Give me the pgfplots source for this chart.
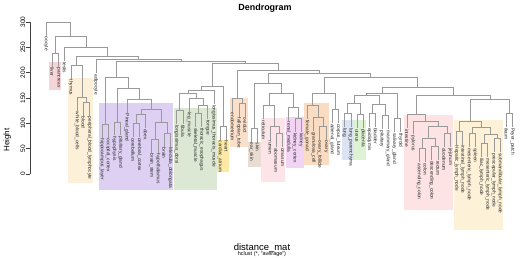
\documentclass[border=0pt]{standalone}
\usepackage{pgfplots}
\pgfplotsset{compat=1.18}
\usepackage{fontspec}
\setmainfont{Liberation Sans}
\definecolor{bxliver}{HTML}{F6D5D8}
\definecolor{bxblood}{HTML}{FCF1D8}
\definecolor{bxbrain}{HTML}{DDD0F2}
\definecolor{bxmuscle}{HTML}{DCE8D3}
\definecolor{bxheart}{HTML}{FCE9A6}
\definecolor{bxendo}{HTML}{FADFCB}
\definecolor{bxskin}{HTML}{E9DCD2}
\definecolor{bxrumen}{HTML}{FCE4E8}
\definecolor{bxkidney}{HTML}{F3D3F3}
\definecolor{bxovary}{HTML}{FADCC2}
\definecolor{bxlung}{HTML}{DCE3F3}
\definecolor{bxgreen}{HTML}{DDF3D3}
\definecolor{bxint}{HTML}{FDE3E3}
\definecolor{bxlymph}{HTML}{FDF1D8}
\definecolor{treegray}{HTML}{9A9A9A}
\begin{document}
\begin{tikzpicture}
\path[use as bounding box] (0,0) rectangle (520bp,258bp);
\begin{axis}[
  at={(30bp,84bp)}, anchor=south west,
  scale only axis, width=485bp, height=152bp,
  xmin=30, xmax=515, ymin=0, ymax=300,
  hide x axis, axis y line*=left,
  clip=false,
  ytick={0,50,...,300},
  tick align=outside, major tick length=3.5bp,
  yticklabel style={rotate=90, anchor=south, font=\fontsize{6.5}{7}\selectfont, inner sep=1pt},
  /pgf/number format/assume math mode=true,
  ylabel={Height},
  ylabel style={at={(axis description cs:-0.047,0.224)}, anchor=center, font=\fontsize{8}{9}\selectfont},
  axis line style={black!75, line width=0.5bp},
  y tick style={black!75, line width=0.5bp},
  unbounded coords=jump,
]
% ---- coloured group boxes
\addplot[draw=none, fill=bxliver] coordinates {(49.2,221)(61.4,221)(61.4,166)(49.2,166)} -- cycle;
\addplot[draw=none, fill=bxblood] coordinates {(67.9,189)(92.5,189)(92.5,-18)(67.9,-18)} -- cycle;
\addplot[draw=none, fill=bxbrain] coordinates {(99,140)(173.4,140)(173.4,-32)(99,-32)} -- cycle;
\addplot[draw=none, fill=bxmuscle] coordinates {(174,130)(216.9,130)(216.9,-32)(174,-32)} -- cycle;
\addplot[draw=none, fill=bxheart] coordinates {(217.2,67)(229.4,67)(229.4,4)(217.2,4)} -- cycle;
\addplot[draw=none, fill=bxendo] coordinates {(229.6,150)(248,150)(248,53)(229.6,53)} -- cycle;
\addplot[draw=none, fill=bxskin] coordinates {(248.3,63)(260.5,63)(260.5,14)(248.3,14)} -- cycle;
\addplot[draw=none, fill=bxrumen] coordinates {(260.7,110)(285.4,110)(285.4,-16)(260.7,-16)} -- cycle;
\addplot[draw=none, fill=bxkidney] coordinates {(285.6,112)(304,112)(304,12)(285.6,12)} -- cycle;
\addplot[draw=none, fill=bxovary] coordinates {(304.2,140)(328.9,140)(328.9,18)(304.2,18)} -- cycle;
\addplot[draw=none, fill=bxlung] coordinates {(341.6,106)(353.8,106)(353.8,28)(341.6,28)} -- cycle;
\addplot[draw=none, fill=bxgreen] coordinates {(354,106)(366.2,106)(366.2,28)(354,28)} -- cycle;
\addplot[draw=none, fill=bxint] coordinates {(403.8,116)(453.3,116)(453.3,-71)(403.8,-71)} -- cycle;
\addplot[draw=none, fill=bxlymph] coordinates {(453.5,107)(503.1,107)(503.1,-110)(453.5,-110)} -- cycle;
% ---- dendrogram branches
\addplot[treegray, line width=0.55bp] coordinates {
(46.0,273)(46.0,300)(70.6,300)(70.6,272) (0,nan)
(55.3,239)(55.3,272)(86.0,272)(86.0,250) (0,nan)
(52.2,212)(52.2,239)(58.4,239)(58.4,212) (0,nan)
(64.7,223)(64.7,250)(107.3,250)(107.3,232) (0,nan)
(76.3,215)(76.3,232)(138.3,232)(138.3,226) (0,nan)
(70.9,188)(70.9,215)(81.8,215)(81.8,152) (0,nan)
(77.1,125)(77.1,152)(86.4,152)(86.4,142) (0,nan)
(83.3,115)(83.3,142)(89.5,142)(89.5,115) (0,nan)
(95.8,199)(95.8,226)(180.9,226)(180.9,222) (0,nan)
(116.6,191)(116.6,222)(245.2,222)(245.2,219) (0,nan)
(105.1,99)(105.1,191)(128.2,191)(128.2,170) (0,nan)
(102.0,72)(102.0,99)(108.2,99)(108.2,72) (0,nan)
(117.5,103)(117.5,170)(138.9,170)(138.9,148) (0,nan)
(114.4,76)(114.4,103)(120.6,103)(120.6,76) (0,nan)
(126.9,121)(126.9,148)(151.0,148)(151.0,128) (0,nan)
(140.9,118)(140.9,128)(161.1,128)(161.1,103) (0,nan)
(136.2,100)(136.2,118)(145.5,118)(145.5,91) (0,nan)
(133.1,73)(133.1,100)(139.3,100)(139.3,73) (0,nan)
(154.9,69)(154.9,103)(167.3,103)(167.3,81) (0,nan)
(151.7,42)(151.7,69)(158.0,69)(158.0,42) (0,nan)
(164.2,54)(164.2,81)(170.4,81)(170.4,54) (0,nan)
(212.1,174)(212.1,219)(278.3,219)(278.3,205) (0,nan)
(200.9,165)(200.9,174)(223.3,174)(223.3,95) (0,nan)
(187.9,160)(187.9,165)(213.9,165)(213.9,138) (0,nan)
(179.7,125)(179.7,160)(196.1,160)(196.1,150) (0,nan)
(176.6,98)(176.6,125)(182.8,125)(182.8,98) (0,nan)
(189.1,123)(189.1,150)(203.05,150)(203.05,135) (0,nan)
(198.4,120)(198.4,135)(207.7,135)(207.7,108) (0,nan)
(195.3,93)(195.3,120)(201.5,120)(201.5,93) (0,nan)
(220.2,68)(220.2,95)(226.4,95)(226.4,68) (0,nan)
(237.3,150)(237.3,205)(319.2,205)(319.2,198) (0,nan)
(232.6,123)(232.6,150)(241.9,150)(241.9,140) (0,nan)
(238.8,113)(238.8,140)(245.0,140)(245.0,113) (0,nan)
(267.8,180)(267.8,198)(370.7,198)(370.7,190) (0,nan)
(254.4,91)(254.4,180)(281.2,180)(281.2,160) (0,nan)
(251.3,64)(251.3,91)(257.5,91)(257.5,64) (0,nan)
(269.1,135)(269.1,160)(293.3,160)(293.3,132) (0,nan)
(263.7,108)(263.7,135)(274.6,135)(274.6,95) (0,nan)
(269.9,68)(269.9,95)(279.25,95)(279.25,80) (0,nan)
(276.1,53)(276.1,80)(282.4,80)(282.4,53) (0,nan)
(288.6,105)(288.6,132)(297.9,132)(297.9,110) (0,nan)
(294.8,83)(294.8,110)(301.0,110)(301.0,83) (0,nan)
(323.9,160)(323.9,190)(417.4,190)(417.4,172) (0,nan)
(312.7,135)(312.7,160)(335.2,160)(335.2,128) (0,nan)
(307.2,108)(307.2,135)(318.2,135)(318.2,112) (0,nan)
(313.5,85)(313.5,112)(322.8,112)(322.8,95) (0,nan)
(319.7,68)(319.7,95)(325.9,95)(325.9,68) (0,nan)
(332.1,101)(332.1,128)(338.3,128)(338.3,101) (0,nan)
(381.9,160)(381.9,172)(453.0,172)(453.0,156) (0,nan)
(366.3,155)(366.3,160)(397.4,160)(397.4,110) (0,nan)
(353.9,140)(353.9,155)(378.8,155)(378.8,138) (0,nan)
(347.7,120)(347.7,140)(360.1,140)(360.1,118) (0,nan)
(344.6,93)(344.6,120)(350.8,120)(350.8,93) (0,nan)
(357.0,91)(357.0,118)(363.2,118)(363.2,91) (0,nan)
(372.6,120)(372.6,138)(385.0,138)(385.0,115) (0,nan)
(369.4,93)(369.4,120)(375.7,120)(375.7,93) (0,nan)
(381.9,88)(381.9,115)(388.1,115)(388.1,88) (0,nan)
(394.3,83)(394.3,110)(400.5,110)(400.5,83) (0,nan)
(416.1,118)(416.1,156)(490.0,156)(490.0,148) (0,nan)
(406.8,91)(406.8,118)(425.4,118)(425.4,105) (0,nan)
(413.0,78)(413.0,105)(437.9,105)(437.9,95) (0,nan)
(428.5,70)(428.5,95)(447.2,95)(447.2,80) (0,nan)
(422.3,50)(422.3,70)(434.8,70)(434.8,55) (0,nan)
(419.2,23)(419.2,50)(425.4,50)(425.4,23) (0,nan)
(431.6,28)(431.6,55)(437.9,55)(437.9,28) (0,nan)
(444.1,53)(444.1,80)(450.3,80)(450.3,53) (0,nan)
(470.5,104)(470.5,148)(509.4,148)(509.4,120) (0,nan)
(459.6,85)(459.6,104)(481.4,104)(481.4,92) (0,nan)
(456.5,58)(456.5,85)(462.7,85)(462.7,58) (0,nan)
(472.1,80)(472.1,92)(490.7,92)(490.7,78) (0,nan)
(469.0,53)(469.0,80)(475.2,80)(475.2,53) (0,nan)
(484.5,60)(484.5,78)(497.0,78)(497.0,70) (0,nan)
(481.4,33)(481.4,60)(487.6,60)(487.6,33) (0,nan)
(493.8,43)(493.8,70)(500.1,70)(500.1,43) (0,nan)
(506.3,93)(506.3,120)(512.5,120)(512.5,93)
};
% ---- leaf labels
\addplot[draw=none, mark=none, nodes near coords, point meta=explicit symbolic,
  every node near coord/.append style={rotate=-90, anchor=west, inner sep=1pt,
  font=\fontsize{4.8}{5}\selectfont, text=black!85}]
table[meta=label] {
x y label
46.0 273 oocyte
52.2 212 liver
58.4 212 pancreas
64.7 223 testis
70.9 188 thymus
77.1 125 white\_blood\_cells
83.3 115 blood
89.5 115 peripheral\_blood\_lymphocyte
95.8 199 adipocyte
102.0 72 hippocampus\_layer
108.2 72 occipital\_cortex
114.4 76 hypophysis
120.6 76 pituitary\_gland
126.9 121 Pineal\_gland
133.1 73 cerebellum
139.3 73 cerebral\_cortex
145.5 91 obex
151.7 42 brain\_stem
158.0 42 hypothalamus
164.2 54 brain
170.4 54 Medulla\_oblongata
176.6 98 longissimus\_dorsi
182.8 98 fibula
189.1 123 leg\_muscle
195.3 93 skeletal\_muscle
201.5 93 thoracic\_esophagus
207.7 108 tongue
213.9 138 longissimus\_thoracis\_muscle
220.2 68 cardiac\_atrium
226.4 68 heart
232.6 123 endometrium
238.8 113 fallopian\_tube
245.0 113 oviduct
251.3 64 ear\_skin
257.5 64 skin
263.7 108 reticulum
269.9 68 rumen
276.1 53 abomasum
282.4 53 omasum
288.6 105 renal\_medulla
294.8 83 kidney\_cortex
301.0 83 kidney
307.2 108 female\_gonad
313.5 85 granulosa\_cell
319.7 68 ovary\_follicle
325.9 68 ovary
332.1 101 adrenal\_gland
338.3 101 corpus\_luteum
344.6 93 lung
350.8 93 lung\_parenchyma
357.0 91 uterus
363.2 91 placenta
369.4 93 epididymis
375.7 93 bladder
381.9 88 pituitary
388.1 88 mammary\_gland
394.3 83 salivary\_gland
400.5 83 thyroid
406.8 91 intestine
413.0 78 pylorus
419.2 23 ascending\_colon
425.4 23 colon
431.6 28 descending\_colon
437.9 28 rectum
444.1 53 duodenum
450.3 53 jejunum
456.5 58 Hepatic\_lymph\_node
462.7 58 intestinal\_lymph\_node
469.0 53 mesenteric\_lymph\_node
475.2 53 spleen
481.4 33 iliac\_lymph\_node
487.6 33 mesenteric\_lymph\_node
493.8 43 prescapular\_lymph\_node
500.1 43 submandibular\_lymph\_node
506.3 93 ileum
512.5 93 Peyer\_patch
};
\end{axis}
\node[font=\bfseries\fontsize{9}{10}\selectfont] at (265bp,250bp) {Dendrogram};
\node[font=\fontsize{9.5}{10}\selectfont] at (262bp,10bp) {distance\_mat};
\node[font=\fontsize{5.5}{6}\selectfont] at (262bp,3.5bp) {hclust (*, "average")};
\end{tikzpicture}
\end{document}
